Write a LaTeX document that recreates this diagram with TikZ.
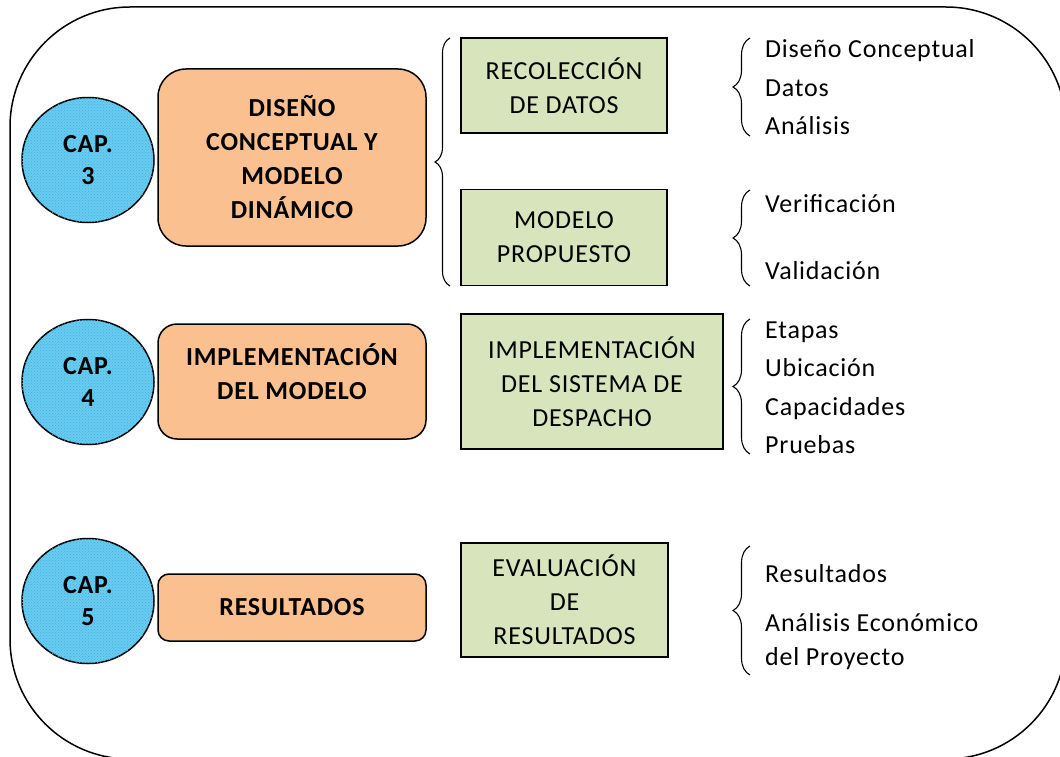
\documentclass[tikz,border=0pt]{standalone}
\usepackage{fontspec}
\setmainfont[LetterSpace=3]{Carlito}
\usetikzlibrary{calc,shapes.geometric,decorations.pathreplacing,patterns}
\definecolor{capblue}{RGB}{105,204,240}
\definecolor{capdots}{RGB}{60,175,225}
\definecolor{secorange}{RGB}{250,192,143}
\definecolor{topicgreen}{RGB}{216,228,188}
\newcommand{\pixel}{1pt}
\newcommand{\makebrace}[4]{
	\draw[line width=1.1pt, decorate, decoration={brace, amplitude=#4, aspect=0.5}] (#1,#3) -- (#1,#2);
}

\begin{document}
\begin{tikzpicture}[x=\pixel,y=-\pixel,
	font=\fontsize{26}{34}\selectfont,
	chapter/.style={ellipse, draw, line width=1.5pt, fill=capblue, postaction={pattern=crosshatch dots, pattern color=capdots}, minimum width=132, minimum height=125, inner sep=0pt, align=center, font=\fontsize{26}{32}\selectfont\bfseries},
	sectionbox/.style={draw, line width=1.5pt, fill=secorange, minimum width=268, align=center, font=\fontsize{26}{34}\selectfont\bfseries},
	topicbox/.style={draw, line width=1.5pt, fill=topicgreen, align=center},
	itemtext/.style={anchor=base west, inner sep=0pt}]
	\useasboundingbox (0,0) rectangle (1060,757);

	% outer frame
	\draw[line width=1.5pt, rounded corners=120] (10,7) rectangle (1066,759);

	% chapters
	\node[chapter] (cap3) at (88,160) {CAP.\\3};
	\node[chapter] (cap4) at (88,382) {CAP.\\4};
	\node[chapter] (cap5) at (88,601) {CAP.\\5};

	\node[sectionbox, minimum height=177, rounded corners=28] (dis) at (292,157.5) {DISEÑO\\CONCEPTUAL Y\\MODELO\\DINÁMICO};
	\node[sectionbox, minimum height=115, rounded corners=19] (imp) at (292,381.5) {IMPLEMENTACIÓN\\DEL MODELO\\[-14pt]};
	\node[sectionbox, minimum height=67, rounded corners=11] (res) at (292,607.5) {RESULTADOS};

	% topics
	\node[topicbox, minimum width=206, minimum height=95] (recol) at (564,85.5) {RECOLECCIÓN\\DE DATOS};
	\node[topicbox, minimum width=206, minimum height=96] (prop) at (564,237.5) {MODELO\\PROPUESTO};
	\node[topicbox, minimum width=262, minimum height=135] (desp) at (592,381.5) {IMPLEMENTACIÓN\\DEL SISTEMA DE\\DESPACHO};
	\node[topicbox, minimum width=207, minimum height=114] (eval) at (564.5,600) {EVALUACIÓN\\DE\\RESULTADOS};

	\makebrace{450}{38}{286}{15pt}

	% details
	\node[itemtext] (i1) at (765,58) {Diseño Conceptual};
	\node[itemtext] (i2) at (765,97) {Datos};
	\node[itemtext] (i3) at (765,135) {Análisis};
	\makebrace{750}{38}{136}{17pt}

	\node[itemtext] (i4) at (765,212) {Verificación};
	\node[itemtext] (i5) at (765,279) {Validación};
	\makebrace{750}{190}{286}{17pt}

	\node[itemtext] (i6) at (765,338) {Etapas};
	\node[itemtext] (i7) at (765,376) {Ubicación};
	\node[itemtext] (i8) at (765,415) {Capacidades};
	\node[itemtext] (i9) at (765,453) {Pruebas};
	\makebrace{750}{319}{454}{17pt}

	\node[itemtext] (i10) at (765,582) {Resultados};
	\node[itemtext] (i11) at (765,631) {Análisis Económico};
	\node[itemtext] (i12) at (765,665) {del Proyecto};
	\makebrace{750}{546}{675}{17pt}
\end{tikzpicture}
\end{document}
